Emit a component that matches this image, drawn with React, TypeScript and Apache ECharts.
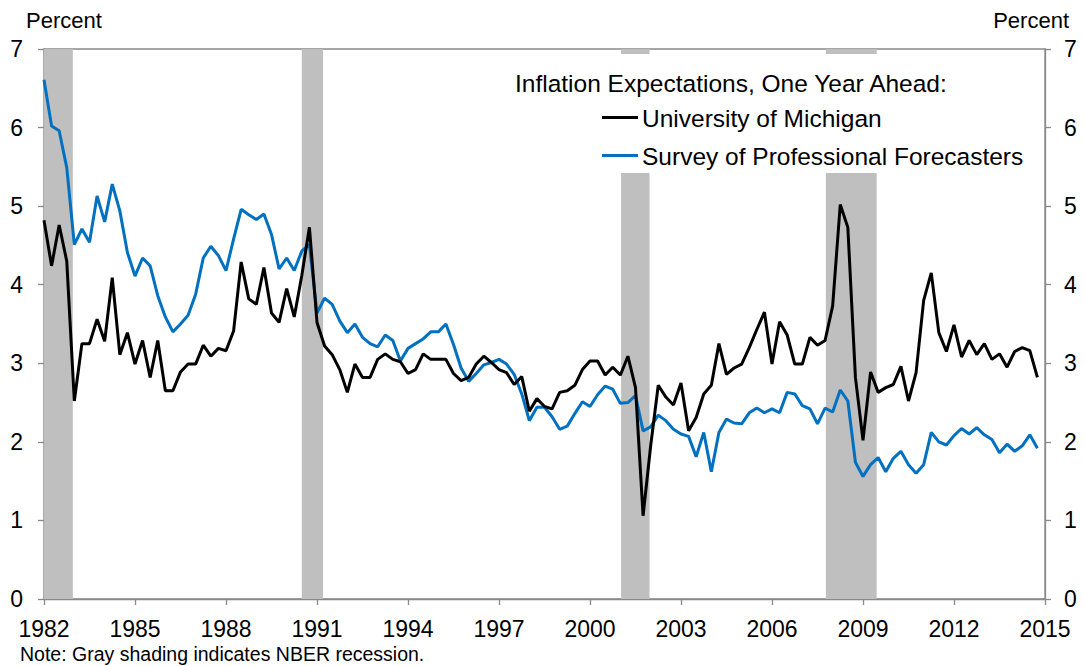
import React, { useEffect, useRef } from "react";
import * as echarts from "echarts";

const START_YEAR = 1982;
const yTicks = [0, 1, 2, 3, 4, 5, 6, 7];

// Quarterly, 1982Q1 .. 2014Q4
const michigan = [
  4.82, 4.24, 4.76, 4.30, 2.52, 3.25, 3.25, 3.56, 3.28, 4.09, 3.11, 3.39,
  2.99, 3.29, 2.82, 3.29, 2.65, 2.65, 2.89, 2.99, 2.99, 3.23, 3.09, 3.19,
  3.16, 3.41, 4.29, 3.82, 3.75, 4.22, 3.64, 3.52, 3.95, 3.59, 4.12, 4.73,
  3.52, 3.22, 3.11, 2.92, 2.63, 2.99, 2.82, 2.82, 3.05, 3.12, 3.05, 3.02,
  2.87, 2.92, 3.12, 3.05, 3.05, 3.05, 2.87, 2.78, 2.82, 2.99, 3.09, 3.01,
  2.92, 2.88, 2.73, 2.83, 2.39, 2.55, 2.45, 2.42, 2.63, 2.65, 2.72, 2.92,
  3.03, 3.03, 2.85, 2.95, 2.85, 3.09, 2.69, 1.06, 1.95, 2.72, 2.57, 2.47,
  2.75, 2.14, 2.31, 2.61, 2.72, 3.25, 2.86, 2.94, 2.99, 3.20, 3.43, 3.65,
  2.99, 3.53, 3.36, 2.99, 2.99, 3.33, 3.23, 3.29, 3.73, 5.02, 4.73, 2.82,
  2.02, 2.89, 2.63, 2.69, 2.73, 2.96, 2.52, 2.88, 3.80, 4.15, 3.39, 3.15,
  3.49, 3.08, 3.29, 3.11, 3.25, 3.05, 3.12, 2.95, 3.15, 3.20, 3.16, 2.82,
];

const spf = [
  6.61, 6.02, 5.96, 5.49, 4.51, 4.71, 4.54, 5.13, 4.80, 5.28, 4.94, 4.41,
  4.11, 4.34, 4.24, 3.86, 3.59, 3.40, 3.50, 3.61, 3.88, 4.34, 4.49, 4.37,
  4.18, 4.58, 4.96, 4.89, 4.83, 4.90, 4.64, 4.20, 4.34, 4.18, 4.43, 4.51,
  3.64, 3.83, 3.75, 3.54, 3.39, 3.50, 3.33, 3.25, 3.21, 3.36, 3.29, 3.03,
  3.19, 3.25, 3.31, 3.40, 3.40, 3.50, 3.24, 2.94, 2.77, 2.87, 2.98, 3.01,
  3.05, 2.99, 2.86, 2.61, 2.27, 2.44, 2.44, 2.32, 2.16, 2.20, 2.36, 2.51,
  2.45, 2.60, 2.71, 2.67, 2.49, 2.50, 2.59, 2.14, 2.19, 2.34, 2.27, 2.16,
  2.10, 2.07, 1.81, 2.12, 1.62, 2.12, 2.29, 2.24, 2.23, 2.37, 2.43, 2.37,
  2.42, 2.37, 2.63, 2.61, 2.46, 2.42, 2.23, 2.43, 2.38, 2.66, 2.52, 1.74,
  1.56, 1.71, 1.80, 1.62, 1.79, 1.88, 1.71, 1.60, 1.71, 2.12, 2.00, 1.96,
  2.08, 2.17, 2.10, 2.18, 2.09, 2.03, 1.86, 1.97, 1.88, 1.95, 2.09, 1.92,
];

// Recession spans in quarters since 1982Q1
const recessionStart = [0, 34, 76.1, 103.1];
const recessionEnd = [3.8, 36.8, 79.85, 109.8];

const FONT = "'Liberation Sans', Arial, sans-serif";
const AXIS_COLOR = "#898989";

export default function App() {
  const ref = useRef<HTMLDivElement>(null);

  useEffect(() => {
    if (!ref.current) return;
    const chart = echarts.init(ref.current, undefined, { renderer: "svg" });
    const toPairs = (arr: number[]) => arr.map((v, i) => [i, v]);

    const yAxisBase = (pos: "left" | "right") => ({
      type: "value" as const,
      position: pos,
      min: 0,
      max: 7,
      interval: 1,
      splitLine: { show: false },
      axisLine: { show: true, lineStyle: { color: AXIS_COLOR, width: 1.3 } },
      axisTick: { show: true, length: 6, lineStyle: { color: AXIS_COLOR, width: 1.3 } },
      axisLabel: {
        color: "#000",
        fontFamily: FONT,
        fontSize: 23,
        margin: pos === "left" ? 21 : 19,
        formatter: (v: number) => (yTicks.includes(v) ? String(v) : ""),
      },
    });

    chart.setOption({
      animation: false,
      backgroundColor: "#fff",
      grid: {
        left: 44,
        right: 39,
        top: 49,
        bottom: 67,
        show: true,
        borderColor: AXIS_COLOR,
        borderWidth: 1.3,
        containLabel: false,
      },
      xAxis: {
        type: "value",
        min: 0,
        max: 132,
        interval: 12,
        splitLine: { show: false },
        axisLine: { show: true, lineStyle: { color: AXIS_COLOR, width: 1.3 } },
        axisTick: { show: true, length: 6, lineStyle: { color: AXIS_COLOR, width: 1.3 } },
        axisLabel: {
          color: "#000",
          fontFamily: FONT,
          fontSize: 23,
          margin: 18,
          formatter: (v: number) => String(START_YEAR + v / 4),
        },
      },
      yAxis: [yAxisBase("left"), yAxisBase("right")],
      series: [
        {
          type: "line",
          name: "recessions",
          data: [],
          z: 1,
          silent: true,
          markArea: {
            silent: true,
            itemStyle: { color: "#BFBFBF" },
            data: recessionStart.map((s, k) => [{ xAxis: s }, { xAxis: recessionEnd[k] }]),
          },
        },
        {
          type: "line",
          name: "Survey of Professional Forecasters",
          data: toPairs(spf),
          showSymbol: false,
          symbol: "none",
          z: 3,
          lineStyle: { color: "#0070C0", width: 3 },
        },
        {
          type: "line",
          name: "University of Michigan",
          data: toPairs(michigan),
          showSymbol: false,
          symbol: "none",
          z: 4,
          lineStyle: { color: "#000000", width: 3 },
        },
      ],
      graphic: [
        {
          type: "rect",
          z: 10,
          shape: { x: 500, y: 54, width: 544, height: 119 },
          style: { fill: "#ffffff" },
        },
        {
          type: "text",
          z: 11,
          x: 515,
          y: 83,
          style: {
            text: "Inflation Expectations, One Year Ahead:",
            font: `24.5px ${FONT}`,
            fill: "#000",
            verticalAlign: "middle",
          },
        },
        {
          type: "line",
          z: 11,
          shape: { x1: 602, y1: 117.5, x2: 638, y2: 117.5 },
          style: { stroke: "#000", lineWidth: 3 },
        },
        {
          type: "text",
          z: 11,
          x: 642,
          y: 118,
          style: {
            text: "University of Michigan",
            font: `24.5px ${FONT}`,
            fill: "#000",
            verticalAlign: "middle",
          },
        },
        {
          type: "line",
          z: 11,
          shape: { x1: 602, y1: 155.5, x2: 638, y2: 155.5 },
          style: { stroke: "#0070C0", lineWidth: 3 },
        },
        {
          type: "text",
          z: 11,
          x: 642,
          y: 156,
          style: {
            text: "Survey of Professional Forecasters",
            font: `24.5px ${FONT}`,
            fill: "#000",
            verticalAlign: "middle",
          },
        },
        {
          type: "text",
          z: 11,
          x: 26,
          y: 20,
          style: {
            text: "Percent",
            font: `22px ${FONT}`,
            fill: "#000",
            verticalAlign: "middle",
          },
        },
        {
          type: "text",
          z: 11,
          x: 1069,
          y: 20,
          style: {
            text: "Percent",
            font: `22px ${FONT}`,
            fill: "#000",
            align: "right",
            verticalAlign: "middle",
          },
        },
        {
          type: "text",
          z: 11,
          x: 20,
          y: 654,
          style: {
            text: "Note: Gray shading indicates NBER recession.",
            font: `19.5px ${FONT}`,
            fill: "#000",
            verticalAlign: "middle",
          },
        },
      ],
    });

    return () => chart.dispose();
  }, []);

  return (
    <div
      ref={ref}
      style={{ position: "absolute", left: 0, top: 0, width: 1084, height: 666 }}
    />
  );
}
